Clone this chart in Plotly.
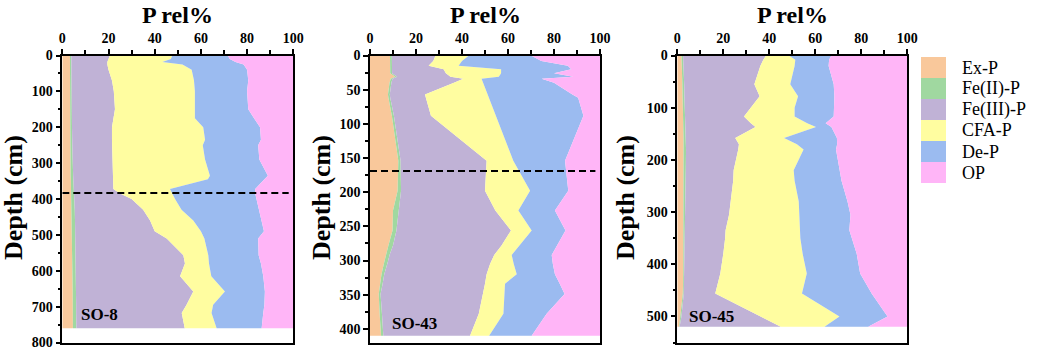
import plotly.graph_objects as go

# ---------------- data (relative %) ----------------
components = ["Ex-P", "Fe(II)-P", "Fe(III)-P", "CFA-P", "De-P", "OP"]
colors = ["#F9C89B", "#A0D8A0", "#C0B2D6", "#FFFDA0", "#9BBBF0", "#FFB5F7"]

# SO-8
so8_depth = [0, 10, 18, 25, 40, 70, 100, 150, 175, 200, 235, 250, 290, 335, 345,
             372, 385, 400, 430, 460, 490, 510, 557, 580, 615, 658, 695, 718, 760]
so8_exp = [3.3, 3.3, 3.3, 3.3, 3.3, 3.4, 3.4, 3.4, 3.4, 3.5, 3.5, 3.5, 3.6, 3.6, 3.7,
           3.8, 3.8, 3.9, 4.0, 4.1, 4.2, 4.3, 4.4, 4.4, 4.4, 4.5, 4.5, 4.5, 4.6]
so8_fe2 = [0.6, 0.6, 0.6, 0.6, 0.6, 0.6, 0.6, 0.7, 0.7, 0.7, 0.8, 0.8, 0.9, 1.1, 1.1,
           1.2, 1.3, 1.3, 1.4, 1.4, 1.4, 1.4, 1.4, 1.4, 1.5, 1.5, 1.5, 1.5, 1.5]
so8_fe3 = [16.7, 16.1, 15.6, 15.6, 16.1, 17.5, 18.3, 18.7, 17.9, 17.3, 17.2, 17.3, 17.3, 17.3, 17.2,
           17.1, 19.9, 24.8, 29.6, 32.5, 34.4, 39.5, 46.6, 47.3, 45.1, 50.7, 47.8, 45.7, 46.9]
so8_cfa = [27.0, 27.0, 23.8, 32.5, 36.0, 35.5, 35.1, 34.6, 35.4, 39.5, 40.3, 39.2, 40.0, 41.9, 41.0,
           24.5, 22.5, 18.8, 16.6, 18.7, 20.0, 16.3, 10.8, 10.4, 13.5, 13.7, 11.5, 12.9, 13.8]
so8_dep = [24.0, 25.5, 31.7, 26.5, 24.0, 23.5, 22.6, 23.1, 25.6, 24.6, 24.2, 24.0, 23.5, 25.1, 24.5,
           36.9, 36.0, 35.2, 33.7, 29.3, 27.3, 23.3, 21.8, 22.5, 22.5, 17.3, 22.2, 22.4, 19.5]
so8_op = [28.4, 27.5, 25.0, 21.5, 20.0, 19.5, 20.0, 19.5, 17.0, 14.4, 14.0, 15.2, 14.7, 11.0, 12.5,
          16.5, 16.5, 16.0, 14.7, 14.0, 12.7, 15.2, 15.0, 14.0, 13.0, 12.3, 12.5, 13.0, 13.7]

# SO-43
so43_depth = [0, 8, 15, 20, 26, 31, 34, 40, 57, 62, 88, 154, 198, 227, 256, 278, 292,
              305, 320, 334, 349, 378, 410]
so43_exp = [8.7, 8.7, 8.6, 8.7, 8.8, 11.0, 9.0, 8.5, 7.8, 8.0, 9.5, 12.3, 12.0, 10.0, 9.8, 8.0, 6.8,
            6.0, 5.0, 4.5, 3.8, 4.2, 4.8]
so43_fe2 = [0.8, 0.8, 0.8, 0.8, 0.8, 0.8, 0.8, 0.8, 0.8, 0.8, 0.9, 1.0, 1.5, 2.5, 1.7, 2.0, 1.7,
            1.5, 1.2, 1.0, 0.8, 1.0, 1.0]
so43_fe3 = [19.0, 18.0, 16.1, 22.5, 23.4, 23.2, 30.8, 27.2, 15.3, 15.5, 16.1, 37.4, 36.5, 42.0, 49.8, 47.2, 45.5,
            44.7, 44.5, 44.5, 44.4, 42.1, 37.7]
so43_cfa = [14.5, 12.5, 13.0, 25.0, 24.0, 21.0, 7.9, 12.7, 27.2, 27.4, 28.2, 11.6, 19.6, 10.0, 9.0, 7.8, 7.6,
            10.3, 13.1, 8.7, 9.5, 10.7, 8.3]
so43_dep = [27.0, 34.5, 47.5, 30.5, 23.0, 32.4, 26.1, 30.8, 36.9, 38.8, 38.1, 22.5, 16.6, 15.9, 14.7, 16.5, 17.4,
            17.0, 16.6, 23.8, 26.1, 18.8, 18.5]
so43_op = [30.0, 25.5, 14.0, 12.5, 20.0, 11.6, 25.4, 20.0, 12.0, 9.5, 7.2, 15.2, 13.8, 19.6, 15.0, 18.5, 21.0,
           20.5, 19.6, 17.5, 15.4, 23.2, 29.7]

# SO-45
so45_depth = [0, 8, 20, 55, 78, 100, 117, 130, 137, 158, 170, 180, 220, 240, 280, 305,
              335, 350, 380, 418, 456, 500, 520]
so45_exp = [1.8, 1.9, 2.0, 2.2, 2.3, 2.5, 2.5, 2.6, 2.6, 2.7, 2.7, 2.8, 2.8, 2.7, 2.6, 2.5,
            2.5, 2.5, 2.6, 2.6, 2.4, 1.5, 0.8]
so45_fe2 = [0.7, 0.7, 0.8, 0.8, 0.8, 0.8, 0.9, 0.9, 0.9, 1.0, 1.0, 1.0, 0.9, 0.9, 0.8, 0.8,
            0.7, 0.7, 0.5, 0.4, 0.4, 0.3, 0.2]
so45_fe3 = [36.1, 34.8, 33.3, 30.5, 32.7, 28.7, 25.6, 28.5, 30.5, 21.5, 23.1, 22.7, 20.8, 20.7, 19.6, 19.2,
            17.8, 17.6, 16.9, 15.7, 13.7, 34.2, 44.0]
so45_cfa = [9.9, 13.9, 14.9, 15.6, 16.7, 19.0, 22.0, 24.5, 26.3, 21.2, 25.2, 28.4, 26.1, 26.7, 29.8, 30.5,
            32.3, 32.7, 34.5, 37.6, 37.7, 34.5, 19.0]
so45_dep = [18.5, 14.7, 14.8, 18.9, 15.8, 17.3, 17.0, 8.0, 6.7, 23.0, 17.5, 14.1, 19.9, 20.4, 21.2, 22.3,
            21.5, 22.3, 23.5, 23.2, 30.3, 20.9, 19.0]
so45_op = [33.0, 34.0, 34.2, 32.0, 31.7, 31.7, 32.0, 35.5, 33.0, 30.6, 30.5, 31.0, 29.5, 28.6, 26.0, 24.7,
           25.2, 24.2, 22.0, 20.5, 15.5, 8.6, 17.0]

cores = [
    ("SO-8", so8_depth, [so8_exp, so8_fe2, so8_fe3, so8_cfa, so8_dep, so8_op], 800, 100, 50, 383, 722, 7.4),
    ("SO-43", so43_depth, [so43_exp, so43_fe2, so43_fe3, so43_cfa, so43_dep, so43_op], 420, 50, 25, 169, 392, 8.7),
    ("SO-45", so45_depth, [so45_exp, so45_fe2, so45_fe3, so45_cfa, so45_dep, so45_op], 550, 100, 50, None, 500, 4.1),
]

# ---------------- layout geometry (pixels) ----------------
W, H = 1040, 353
x_px = [(62.3, 293.3), (370.0, 600.0), (677.3, 907.3)]
y_top, y_bot = 55.5, 342.5
ylab_px = [13, 321, 625]

FONT = "Liberation Serif, Times New Roman, serif"

fig = go.Figure()
layout = dict(
    width=W, height=H, margin=dict(l=0, r=0, t=0, b=0, autoexpand=False),
    paper_bgcolor="white", plot_bgcolor="white", showlegend=False,
    font=dict(family=FONT, color="black"),
)
shapes, annotations = [], []

for i, (name, depth, vals, ymax, dt, mdt, dash_d, lab_y, lab_x) in enumerate(cores):
    n = i + 1
    xa = "x" if n == 1 else f"x{n}"
    ya = "y" if n == 1 else f"y{n}"
    for comp, col, v in zip(components, colors, vals):
        fig.add_trace(go.Scatter(
            x=v, y=depth, mode="lines", line=dict(width=0, color=col),
            stackgroup=f"core{n}", orientation="h", fillcolor=col,
            name=comp, xaxis=xa, yaxis=ya, hoverinfo="skip",
        ))
    x0, x1 = x_px[i]
    common = dict(showline=True, linecolor="black", linewidth=1.5, mirror=True, automargin=False,
                  showgrid=False, zeroline=False, ticks="outside", tickwidth=1.5,
                  ticklen=5, tickcolor="black",
                  tickfont=dict(family=FONT, size=14, color="black", weight="bold"))
    layout[f"xaxis{'' if n == 1 else n}"] = dict(
        domain=[x0 / W, x1 / W], anchor=ya, side="top", range=[0, 100],
        tick0=0, dtick=20, minor=dict(ticks="outside", dtick=10, ticklen=4, tickwidth=1.5, tickcolor="black"),
        **common)
    layout[f"yaxis{'' if n == 1 else n}"] = dict(
        domain=[1 - y_bot / H, 1 - y_top / H], anchor=xa, range=[ymax, 0],
        tick0=0, dtick=dt, minor=dict(ticks="outside", dtick=mdt, ticklen=3, tickwidth=1.5, tickcolor="black"),
        **common)
    if dash_d is not None:
        shapes.append(dict(type="line", xref=xa, yref=ya, x0=0, x1=98, y0=dash_d, y1=dash_d,
                           line=dict(color="black", width=2, dash="7px,4px")))
    annotations.append(dict(text="<b>P rel%</b>", xref="paper", yref="paper",
                            x=(x0 + x1) / 2 / W, y=1 - 15 / H, xanchor="center", yanchor="middle",
                            showarrow=False, font=dict(family=FONT, size=24, color="black")))
    annotations.append(dict(text="<b>Depth (cm)</b>", xref="paper", yref="paper",
                            x=ylab_px[i] / W, y=1 - 198 / H, xanchor="center", yanchor="middle",
                            showarrow=False, textangle=-90,
                            font=dict(family=FONT, size=26, color="black")))
    annotations.append(dict(text=f"<b>{name}</b>", xref=xa, yref=ya, x=lab_x, y=lab_y,
                            xanchor="left", yanchor="middle", showarrow=False,
                            font=dict(family=FONT, size=17, color="black")))

# legend built from the component list
lx0, lx1, ly0, row_h = 921, 946, 57, 21
for k, (comp, col) in enumerate(zip(components, colors)):
    top = ly0 + k * row_h
    shapes.append(dict(type="rect", xref="paper", yref="paper",
                       x0=lx0 / W, x1=lx1 / W, y0=1 - (top + row_h) / H, y1=1 - top / H,
                       fillcolor=col, line=dict(width=0)))
    annotations.append(dict(text=comp, xref="paper", yref="paper", x=960 / W,
                            y=1 - (top + row_h / 2) / H, xanchor="left", yanchor="middle",
                            showarrow=False, font=dict(family=FONT, size=18, color="black")))

layout["shapes"] = shapes
layout["annotations"] = annotations
fig.update_layout(**layout)
fig.write_html("out.html")
